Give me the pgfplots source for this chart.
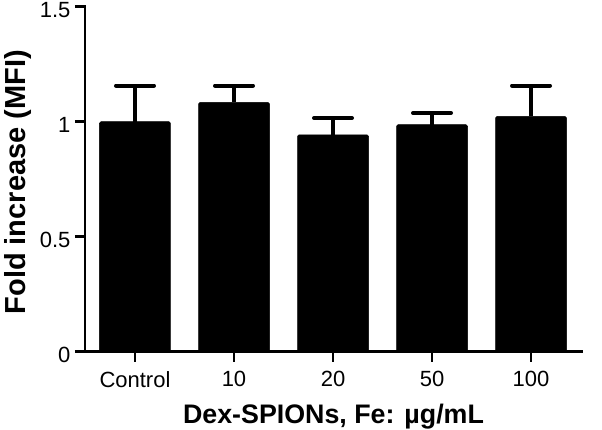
\documentclass[border=0pt]{standalone}
\usepackage{fontspec}
\setmainfont{Liberation Sans}
\usepackage{pgfplots}
\pgfplotsset{compat=1.18}

\begin{document}
\begin{tikzpicture}
\begin{axis}[
    name=ax,
    scale only axis,
    width=497pt, height=345pt,
    ybar, bar width=71pt, bar shift=0pt,
    xmin=-0.505, xmax=4.515,
    ymin=0, ymax=1.5,
    axis x line*=bottom, axis y line*=left,
    axis line style={line width=2.6pt, line cap=rect},
    tick align=outside,
    major tick length=10pt,
    tick style={line width=2.6pt, black},
    xtick={0,1,2,3,4},
    xticklabels={Control,10,20,50,100},
    ytick={0,0.5,1,1.5},
    /pgf/number format/assume math mode=true,
    ticklabel style={font=\fontsize{22}{25}\selectfont},
    xticklabel style={yshift=-6pt},
    yticklabel style={xshift=-1pt, yshift=-3pt},
    xlabel={Dex-SPIONs, Fe: µg/mL},
    ylabel={Fold increase (MFI)},
    xlabel style={font=\fontsize{26.8}{30}\selectfont\bfseries, yshift=-10pt},
    ylabel style={font=\fontsize{29}{32}\selectfont\bfseries, yshift=1pt, xshift=-3pt},
    error bars/y dir=plus,
    error bars/y explicit,
    error bars/error bar style={line width=3.4pt, black},
    error bars/error mark options={rotate=90, mark size=19pt, line width=4pt, line cap=round, black},
]
\addplot[fill=black, draw=black, line width=0.5pt, rounded corners=1.5pt]
    coordinates {
    (0, 1.000) +- (0, 0.157)
    (1, 1.084) +- (0, 0.073)
    (2, 0.943) +- (0, 0.073)
    (3, 0.987) +- (0, 0.051)
    (4, 1.023) +- (0, 0.134)
    };
\end{axis}
\pgfresetboundingbox
\path ([xshift=-85pt, yshift=-78pt]ax.south west) rectangle ([xshift=20pt, yshift=6.7pt]ax.north east);
\end{tikzpicture}
\end{document}
